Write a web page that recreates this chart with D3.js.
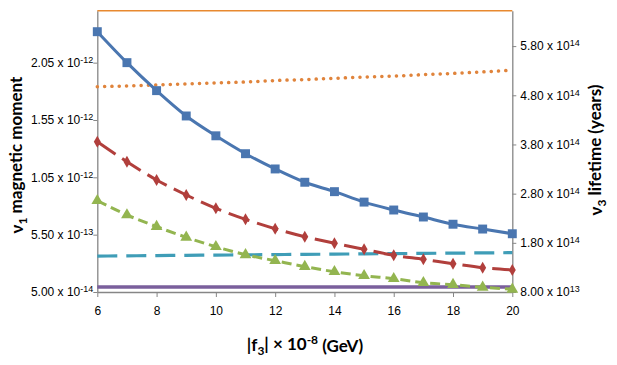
<!DOCTYPE html>
<html>
<head>
<meta charset="utf-8">
<script src="https://cdn.jsdelivr.net/npm/d3@7"></script>
<style>
  body { margin: 0; background: #fff; }
  svg { font-family: Lato, "Open Sans", sans-serif; }
  .axis path, .axis line { stroke: #868686; }
  .axis text { fill: #000; font-size: 12px; }
</style>
</head>
<body>
<svg id="chart"></svg>
<script>
// |f3| x 10^-8 (GeV)
var fValues = [6, 7, 8, 9, 10, 11, 12, 13, 14, 15, 16, 17, 18, 19, 20];

// left axis series (nu1 magnetic moment)
var blueSeries  = [2.32e-12, 2.05e-12, 1.806e-12, 1.585e-12, 1.412e-12, 1.256e-12, 1.123e-12, 1.007e-12, 0.925e-12, 0.834e-12, 0.765e-12, 0.704e-12, 0.641e-12, 0.599e-12, 0.558e-12];
var redSeries   = [1.361e-12, 1.186e-12, 1.027e-12, 0.896e-12, 0.780e-12, 0.684e-12, 0.602e-12, 0.532e-12, 0.475e-12, 0.422e-12, 0.370e-12, 0.335e-12, 0.297e-12, 0.262e-12, 0.242e-12];
var greenSeries = [0.846e-12, 0.722e-12, 0.620e-12, 0.527e-12, 0.445e-12, 0.375e-12, 0.323e-12, 0.271e-12, 0.227e-12, 0.192e-12, 0.166e-12, 0.131e-12, 0.114e-12, 0.091e-12, 0.074e-12];

// right axis series (nu3 lifetime, years)
var tealSeries   = [1.53e14, 1.535e14, 1.54e14, 1.546e14, 1.55e14, 1.556e14, 1.561e14, 1.566e14, 1.57e14, 1.576e14, 1.58e14, 1.586e14, 1.59e14, 1.595e14, 1.60e14];
var orangeSeries = [4.975e14, 4.99e14, 5.01e14, 5.03e14, 5.05e14, 5.07e14, 5.10e14, 5.12e14, 5.145e14, 5.17e14, 5.19e14, 5.22e14, 5.245e14, 5.275e14, 5.31e14];
var purpleSeries = [9.0e13, 9.0e13, 9.0e13, 9.0e13, 9.0e13, 9.0e13, 9.0e13, 9.0e13, 9.0e13, 9.0e13, 9.0e13, 9.0e13, 9.0e13, 9.0e13, 9.0e13];

// tick labels
var xTicks = [6, 8, 10, 12, 14, 16, 18, 20];
var leftTicks = [5e-14, 5.5e-13, 1.05e-12, 1.55e-12, 2.05e-12];
var leftTickLabels = [["5.00", "-14"], ["5.50", "-13"], ["1.05", "-12"], ["1.55", "-12"], ["2.05", "-12"]];
var rightTicks = [8e13, 1.8e14, 2.8e14, 3.8e14, 4.8e14, 5.8e14];
var rightTickLabels = [["8.00", "13"], ["1.80", "14"], ["2.80", "14"], ["3.80", "14"], ["4.80", "14"], ["5.80", "14"]];

var width = 617, height = 365;
var margin = {top: 10.7, right: 104.7, bottom: 73, left: 97.3};
var plotW = width - margin.left - margin.right,
    plotH = height - margin.top - margin.bottom;

var svg = d3.select("#chart").attr("width", width).attr("height", height);
var g = svg.append("g")
    .attr("transform", "translate(" + margin.left + "," + margin.top + ")");

var x = d3.scaleLinear().domain([6, 20]).range([0, plotW]);
var yLeft = d3.scaleLinear().domain([5e-14, 2.503e-12]).range([plotH, 0]);
var yRight = d3.scaleLinear().domain([8e13, 6.52e14]).range([plotH, 0]);

function superLabel(sel, labels) {
    sel.selectAll(".tick text").each(function(d, i) {
        var t = d3.select(this).text("");
        t.append("tspan").text(labels[i][0] + " x 10");
        t.append("tspan").attr("dy", "-0.45em").style("font-size", "9px").text(labels[i][1]);
    });
}

// axes
var xAxis = g.append("g").attr("class", "axis")
    .attr("transform", "translate(0," + plotH + ")")
    .call(d3.axisBottom(x).tickValues(xTicks).tickSize(5).tickSizeOuter(0));
xAxis.selectAll("text").attr("dy", "1.25em");

var lAxis = g.append("g").attr("class", "axis")
    .call(d3.axisLeft(yLeft).tickValues(leftTicks).tickSize(4).tickSizeOuter(0));
superLabel(lAxis, leftTickLabels);
lAxis.selectAll("text").attr("x", -4);

var rAxis = g.append("g").attr("class", "axis")
    .attr("transform", "translate(" + plotW + ",0)")
    .call(d3.axisRight(yRight).tickValues(rightTicks).tickSize(4).tickSizeOuter(0));
superLabel(rAxis, rightTickLabels);
rAxis.selectAll("text").attr("x", 8);

g.selectAll(".axis path").attr("stroke-width", 1.3);

// top border
g.append("line")
    .attr("x1", 0).attr("x2", plotW).attr("y1", 0).attr("y2", 0)
    .attr("stroke", "#e8892f").attr("stroke-width", 1.5);

function drawLine(values, scale, color, dash, width, cap) {
    var line = d3.line()
        .x(function(d, i) { return x(fValues[i]); })
        .y(function(d) { return scale(d); })
        .curve(d3.curveMonotoneX);
    g.append("path")
        .datum(values)
        .attr("d", line)
        .attr("fill", "none")
        .attr("stroke", color)
        .attr("stroke-width", width)
        .attr("stroke-dasharray", dash)
        .attr("stroke-linecap", cap || "butt");
}

drawLine(purpleSeries, yRight, "#7a5f9c", null, 3.5);
drawLine(tealSeries, yRight, "#3f9db7", "20,9", 3.2);
drawLine(orangeSeries, yRight, "#e0843c", "0.1,7.2", 3.5, "round");
drawLine(greenSeries, yLeft, "#93b550", "10,5", 3);
drawLine(redSeries, yLeft, "#b13f3c", "22,8", 3);
drawLine(blueSeries, yLeft, "#4a76b0", null, 3);

// markers
var sym = d3.symbol();
function drawMarkers(values, scale, color, type, size) {
    g.selectAll(null)
        .data(values)
        .enter()
        .append("path")
        .attr("transform", function(d, i) {
            return "translate(" + x(fValues[i]) + "," + scale(d) + ")";
        })
        .attr("d", sym.type(type).size(size)())
        .attr("fill", color);
}
drawMarkers(greenSeries, yLeft, "#93b550", d3.symbolTriangle, 60);
drawMarkers(redSeries, yLeft, "#b13f3c", d3.symbolDiamond, 42);
drawMarkers(blueSeries, yLeft, "#4a76b0", d3.symbolSquare, 80);

// axis titles
var lt = svg.append("text")
    .attr("transform", "translate(23,155) rotate(-90)")
    .attr("text-anchor", "middle")
    .style("font-size", "17px").style("font-weight", "bold");
lt.append("tspan").text("ν");
lt.append("tspan").attr("dy", "0.3em").style("font-size", "12px").text("1");
lt.append("tspan").attr("dy", "-0.3em").text(" magnetic moment");

var rt = svg.append("text")
    .attr("transform", "translate(602,150) rotate(-90)")
    .attr("text-anchor", "middle")
    .style("font-size", "17px").style("font-weight", "bold");
rt.append("tspan").text("ν");
rt.append("tspan").attr("dy", "0.3em").style("font-size", "12px").text("3");
rt.append("tspan").attr("dy", "-0.3em").text(" lifetime (years)");

var xt = svg.append("text")
    .attr("x", 305).attr("y", 351)
    .attr("text-anchor", "middle")
    .style("font-size", "17px").style("font-weight", "bold");
xt.append("tspan").text("|f");
xt.append("tspan").attr("dy", "0.3em").style("font-size", "12px").text("3");
xt.append("tspan").attr("dy", "-0.3em").text("| × 10");
xt.append("tspan").attr("dy", "-0.5em").style("font-size", "12px").text("-8");
xt.append("tspan").attr("dy", "0.5em").text(" (GeV)");
</script>
</body>
</html>
